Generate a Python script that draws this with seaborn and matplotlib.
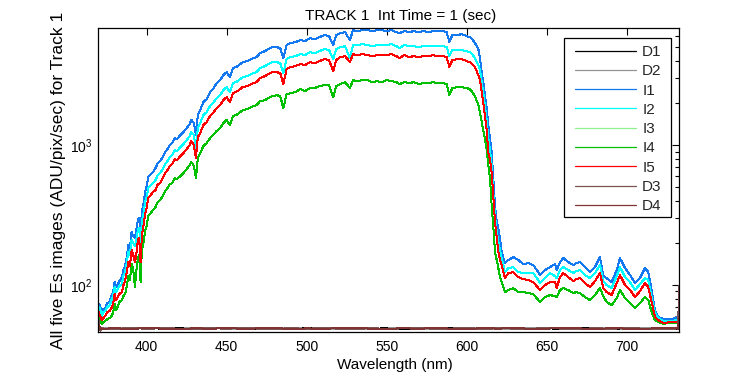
import numpy as np
import pandas as pd
import matplotlib
matplotlib.use("Agg")
import matplotlib.pyplot as plt
import seaborn as sns
from matplotlib.patches import Rectangle
from matplotlib.ticker import LogLocator, NullFormatter, FixedLocator, LogFormatterSciNotation

# ---------------- data ----------------
wavelength = [
    370, 371, 372, 373, 374, 375.5, 377, 378, 379, 380,
    381, 382, 383, 384.5, 385.5, 386.5, 387.5, 388.5, 389.5, 390.6,
    391.5, 392.7, 393.5, 394.5, 395.3, 396.2, 397, 398, 399, 400,
    401, 402.5, 404, 405.5, 407, 408.5, 410, 411.5, 413, 414.5,
    416, 417.7, 419, 421, 423, 425, 426.5, 428, 429.5, 430.8,
    432, 433.5, 435.4, 437.5, 439.6, 441.5, 443.7, 446, 447.9, 450,
    452, 454, 457, 460, 463, 466.7, 468.8, 470.8, 474, 477,
    479, 481.2, 483.5, 485.4, 487.5, 490, 493, 496, 499, 502,
    505, 508, 511, 514, 516.6, 518.5, 521, 524, 527, 529,
    532, 535, 538, 541, 544, 547, 550, 553, 556, 558,
    561, 564, 567, 570, 573, 576, 579, 582, 585, 587.5,
    589.2, 591, 594, 597, 600, 602, 603.5, 605.2, 607.3, 608.3,
    609.4, 610.4, 611.4, 612.5, 613.5, 614.6, 615.6, 616.6, 617.7, 618.8,
    619.8, 620.8, 621.9, 623.9, 626, 629.1, 632.3, 635.4, 638.5, 641.6,
    644.8, 645.8, 648.9, 652.1, 655.2, 656.3, 658.3, 660.4, 663.5, 666.6,
    668.5, 670.8, 674, 677.1, 680.2, 683.3, 685.4, 687.5, 690.6, 693.8,
    695.8, 699, 702.1, 705.2, 708.3, 711.4, 713.5, 715.6, 717.7, 719.8,
    722.9, 727.1, 731.3, 733,
]

i1 = [
    73.1, 70.8, 63.1, 67.4, 68.5, 74.3, 76.8, 83.4, 89.1, 105,
    96.8, 101.6, 106.7, 114.1, 128, 136.6, 155.9, 193.1, 183.8, 239.1,
    223.9, 216.6, 247.1, 291.3, 301, 239.1, 332.2, 378.9, 461.6, 509.4,
    590.7, 620.7, 641.4, 685, 743.8, 768.7, 820.8, 891.2, 936.3, 1000,
    1033, 1122, 1104, 1179, 1238, 1323, 1390, 1509, 1436, 1179,
    1638, 1778, 2028, 2131, 2391, 2512, 2772, 2913, 3162, 3322,
    3060, 3548, 3667, 3916, 3981, 4182, 4252, 4541, 4693, 4930,
    5012, 5012, 4930, 4182, 5180, 5353, 5441, 5623, 5532, 5811,
    5717, 5908, 6105, 6006, 5180, 6105, 6309, 6414, 5623, 6629,
    6521, 6629, 6629, 6521, 6629, 6629, 6521, 6629, 6414, 6309,
    6521, 6414, 6521, 6414, 6521, 6414, 6521, 6521, 6521, 6414,
    5441, 6105, 6105, 6207, 6006, 5908, 5717, 5353, 4850, 4182,
    3322, 2818, 2276, 1838, 1390, 1122, 891.2, 581.1, 372.8, 281.9,
    255.4, 216.6, 172, 143.5, 150.9, 158.5, 150.9, 141.3, 143.5, 138.9,
    123.9, 117.9, 128, 134.4, 141.3, 128, 146, 155.9, 146, 138.9,
    143.5, 146, 134.4, 123.9, 134.4, 158.5, 116, 112.1, 105, 128,
    155.9, 132.2, 117.9, 103.3, 112.1, 132.2, 123.9, 92.1, 66.3, 59.1,
    57.2, 57.2, 58.1, 63.1,
]

i2 = [
    69.7, 67.4, 60.1, 64.2, 65.2, 69.7, 72.0, 78.1, 83.4, 96.8,
    89.1, 93.6, 98.4, 101.6, 116, 123.9, 141.3, 172, 163.8, 209.6,
    199.5, 190, 209.6, 247.1, 255.4, 202.8, 281.9, 321.4, 391.6, 425.2,
    493, 517.9, 535.2, 562.3, 610.5, 631, 673.9, 731.6, 768.7, 820.8,
    848.3, 921.1, 906, 967.6, 1017, 1086, 1141, 1238, 1179, 951.8,
    1323, 1436, 1638, 1721, 1899, 1995, 2166, 2276, 2471, 2596,
    2391, 2772, 2865, 3060, 3111, 3268, 3322, 3548, 3667, 3852,
    3916, 3916, 3852, 3268, 4114, 4252, 4322, 4467, 4394, 4616,
    4541, 4693, 4850, 4770, 4114, 4850, 5012, 5095, 4182, 5180,
    5180, 5266, 5180, 5095, 5180, 5180, 5180, 5266, 5095, 4930,
    5180, 5095, 5095, 5012, 5095, 5095, 5095, 5095, 5095, 5012,
    4322, 4770, 4770, 4770, 4693, 4616, 4467, 4182, 3728, 3433,
    2818, 2352, 1931, 1509, 1122, 921.1, 719.7, 461.6, 316.2, 239.1,
    202.8, 177.8, 155.9, 123.9, 132.2, 134.4, 123.9, 121.8, 121.8, 121.8,
    108.5, 103.3, 112.1, 121.8, 116, 112.1, 128, 134.4, 128, 121.8,
    125.9, 128, 117.9, 112.1, 121.8, 138.9, 106.7, 100, 95.2, 116,
    134.4, 114.1, 105, 92.1, 101.6, 112.1, 108.5, 82.1, 63.1, 58.1,
    55.3, 55.3, 56.2, 59.1,
]

i5 = [
    64.2, 60.1, 56.2, 58.1, 60.1, 64.2, 65.2, 68.5, 73.1, 86.2,
    78.1, 82.1, 86.2, 89.1, 100, 106.7, 121.8, 146, 136.6, 177.8,
    166.5, 146, 163.8, 209.6, 216.6, 146, 223.9, 263.9, 321.4, 354.8,
    418.2, 439.4, 461.6, 477, 526.5, 535.2, 581.1, 631, 662.9, 708,
    731.6, 794.3, 781.4, 834.5, 876.7, 936.3, 983.7, 1068, 1000, 807.4,
    1141, 1218, 1390, 1460, 1611, 1693, 1838, 1931, 2096, 2202,
    2028, 2352, 2431, 2596, 2639, 2772, 2818, 3010, 3111, 3268,
    3322, 3322, 3268, 2727, 3490, 3607, 3667, 3790, 3728, 3916,
    3852, 3981, 4114, 4047, 3377, 4047, 4252, 4322, 3916, 4467,
    4394, 4467, 4394, 4322, 4394, 4394, 4394, 4467, 4322, 4182,
    4394, 4252, 4322, 4252, 4322, 4322, 4394, 4322, 4322, 4252,
    3607, 4047, 4114, 4114, 3981, 3916, 3790, 3607, 3162, 2913,
    2391, 1995, 1638, 1280, 891.2, 781.4, 641.4, 439.4, 281.9, 216.6,
    172, 150.9, 138.9, 112.1, 121.8, 123.9, 114.1, 110.3, 108.5, 105,
    95.2, 92.1, 100, 105, 105, 95.2, 114.1, 121.8, 114.1, 106.7,
    110.3, 112.1, 103.3, 96.8, 106.7, 121.8, 95.2, 89.1, 84.8, 103.3,
    117.9, 100, 92.1, 82.1, 90.6, 103.3, 96.8, 75.6, 59.1, 56.2,
    53.5, 54.4, 54.4, 56.2,
]

# I3 lies exactly under I5 in the reference (not visible)
i3 = list(i5)

i4 = [
    58.1, 55.3, 52.6, 54.4, 55.3, 57.2, 58.1, 60.1, 63.1, 73.1,
    66.3, 70.8, 75.6, 78.1, 83.4, 86.2, 96.8, 116, 108.5, 141.3,
    132.2, 96.8, 123.9, 155.9, 163.8, 105, 177.8, 199.5, 243.1, 263.9,
    311, 326.8, 343.3, 360.7, 391.6, 404.7, 432.2, 469.2, 493, 526.5,
    535.2, 581.1, 571.6, 600.5, 631, 673.9, 708, 756.1, 708, 581.1,
    807.4, 876.7, 983.7, 1033, 1122, 1179, 1259, 1323, 1436, 1509,
    1390, 1611, 1665, 1778, 1808, 1899, 1931, 2062, 2096, 2202,
    2239, 2276, 2239, 1838, 2314, 2352, 2391, 2512, 2431, 2554,
    2554, 2639, 2683, 2683, 2202, 2639, 2727, 2818, 2554, 2913,
    2865, 2913, 2913, 2818, 2865, 2818, 2913, 2865, 2818, 2727,
    2818, 2772, 2818, 2727, 2772, 2772, 2818, 2772, 2772, 2727,
    2276, 2554, 2596, 2596, 2554, 2512, 2391, 2239, 1931, 1721,
    1460, 1280, 1122, 921.1, 719.7, 581.1, 372.8, 268.3, 172, 150.9,
    132.2, 114.1, 105, 89.1, 92.1, 95.2, 89.1, 89.1, 87.7, 86.2,
    78.1, 75.6, 82.1, 84.8, 83.4, 82.1, 92.1, 95.2, 92.1, 87.7,
    89.1, 87.7, 82.1, 78.1, 84.8, 95.2, 83.4, 75.6, 72.0, 80.7,
    92.1, 80.7, 74.3, 68.5, 74.3, 82.1, 78.1, 64.2, 56.2, 54.4,
    53.0, 53.5, 53.5, 54.4,
]

dark_wavelength = [
    370, 371, 372, 380, 390, 400, 410, 420, 430, 440,
    450, 460, 470, 480, 490, 500, 510, 520, 530, 540,
    550, 560, 570, 580, 590, 600, 610, 620, 630, 640,
    650, 660, 670, 680, 690, 700, 710, 720, 730, 732, 733,
]
d1 = [
    50.8, 47.6, 48.9, 49.2, 48.7, 49.4, 48.8, 49.1, 48.6, 49.3,
    48.9, 49.0, 48.5, 49.2, 48.8, 49.1, 48.7, 49.3, 48.9, 48.6,
    49.2, 48.8, 49.0, 48.7, 49.1, 48.8, 49.2, 48.6, 49.0, 48.8,
    49.1, 48.7, 48.9, 49.2, 48.6, 49.0, 48.8, 48.9, 49.1, 48.7, 49.0,
]
d2 = [
    51.5, 48.0, 49.1, 48.8, 49.3, 48.9, 49.2, 48.7, 49.4, 48.9,
    49.1, 48.7, 49.2, 48.9, 49.3, 48.8, 49.0, 48.9, 49.2, 48.8,
    48.9, 49.3, 48.7, 49.1, 48.9, 49.2, 48.8, 49.0, 48.7, 49.2,
    48.9, 49.1, 48.8, 48.9, 49.2, 48.8, 49.1, 48.9, 48.8, 49.2, 52.0,
]
d3 = [
    55.5, 47.3, 49.0, 48.6, 49.3, 48.8, 49.1, 48.9, 48.7, 49.2,
    48.8, 49.3, 48.9, 48.7, 49.1, 48.8, 49.2, 48.9, 48.7, 49.1,
    48.8, 49.0, 49.3, 48.8, 48.9, 49.2, 48.7, 49.1, 48.9, 48.8,
    49.2, 48.9, 48.7, 49.1, 48.8, 49.2, 48.9, 48.8, 48.9, 49.3, 99.0,
]
d4 = [
    52.5, 48.2, 48.8, 49.1, 48.7, 49.2, 48.9, 48.6, 49.1, 48.8,
    49.2, 48.8, 49.0, 49.2, 48.7, 49.0, 48.8, 49.1, 49.2, 48.9,
    48.7, 49.1, 48.8, 49.2, 48.9, 48.7, 49.1, 48.9, 49.2, 48.8,
    48.9, 49.2, 49.0, 48.7, 49.1, 48.9, 48.8, 49.1, 49.2, 48.9, 60.0,
]

series_order = ["D1", "D2", "I1", "I2", "I3", "I4", "I5", "D3", "D4"]
series_colors = ["#000000", "#949494", "#1478f0", "#00ffff", "#8cf08c",
                 "#00c000", "#ff0000", "#7d5454", "#7f3333"]

series = {
    "D1": (dark_wavelength, d1), "D2": (dark_wavelength, d2),
    "I1": (wavelength, i1), "I2": (wavelength, i2), "I3": (wavelength, i3),
    "I4": (wavelength, i4), "I5": (wavelength, i5),
    "D3": (dark_wavelength, d3), "D4": (dark_wavelength, d4),
}
frames = []
for name in series_order:
    x, y = series[name]
    frames.append(pd.DataFrame({"wl": x, "val": y, "series": name}))
df = pd.concat(frames, ignore_index=True)

# ---------------- figure ----------------
sns.set_theme(style="white")
plt.rcParams["font.family"] = ["Liberation Sans", "DejaVu Sans"]
plt.rcParams["mathtext.fontset"] = "custom"
plt.rcParams["mathtext.rm"] = "Liberation Sans"
plt.rcParams["mathtext.it"] = "Liberation Sans"

fig = plt.figure(figsize=(7.5, 3.75), dpi=100)
ax = fig.add_axes([98 / 750, 1 - 331.5 / 375, (679 - 98) / 750, (331.5 - 28.3) / 375])

sns.lineplot(data=df, x="wl", y="val", hue="series", hue_order=series_order,
             palette=dict(zip(series_order, series_colors)),
             estimator=None, sort=False, linewidth=0.72, ax=ax, legend=True)
for ln in ax.lines:
    ln.set_antialiased(False)

ax.set_yscale("log")
ax.set_xlim(369.6, 732.7)
ax.set_ylim(46.6, 6830)

ax.xaxis.set_major_locator(FixedLocator([400, 450, 500, 550, 600, 650, 700]))
ax.yaxis.set_major_locator(LogLocator(base=10, numticks=10))
ax.yaxis.set_minor_locator(LogLocator(base=10, subs=np.arange(2, 10), numticks=10))
ax.yaxis.set_major_formatter(LogFormatterSciNotation())
ax.yaxis.set_minor_formatter(NullFormatter())

ax.tick_params(which="both", direction="in", top=True, right=True,
               colors="black", labelsize=10, width=0.8)
ax.tick_params(which="major", length=5)
ax.tick_params(which="minor", length=3)
ax.tick_params(axis="x", pad=6)
ax.tick_params(axis="y", pad=4)
for sp in ax.spines.values():
    sp.set_color("black")
    sp.set_linewidth(0.9)

ax.set_xlabel("Wavelength (nm)", fontsize=11, color="black", labelpad=3)
ax.xaxis.label.set_x((395 - 98) / 581)
ax.set_ylabel("All five Es images (ADU/pix/sec) for Track 1", fontsize=12.5,
              color="black", labelpad=2.5)
ax.set_title("TRACK 1  Int Time = 1 (sec)", fontsize=11, color="black", pad=6,
             x=(401 - 98) / 581)

old = ax.get_legend()
handles = old.legend_handles
labels = [t.get_text() for t in old.get_texts()]
old.remove()

# legend box drawn exactly where the reference has it
box = Rectangle((564 / 750, 1 - 217 / 375), 107 / 750, 179 / 375,
                transform=fig.transFigure, facecolor="white",
                edgecolor="black", linewidth=0.9, zorder=5, clip_on=False)
ax.add_patch(box)
leg = ax.legend(handles, labels, loc="upper left",
                bbox_to_anchor=(575 / 750, 1 - 45.0 / 375), bbox_transform=fig.transFigure,
                frameon=False, fontsize=11, handlelength=4.0, handletextpad=0.4,
                labelspacing=0.345, borderpad=0, borderaxespad=0)
leg.set_zorder(6)
for h, c in zip(leg.legend_handles, series_colors):
    h.set_color(c)
    h.set_linewidth(0.9)
    h.set_antialiased(True)

fig.savefig("out.png", dpi=100)
